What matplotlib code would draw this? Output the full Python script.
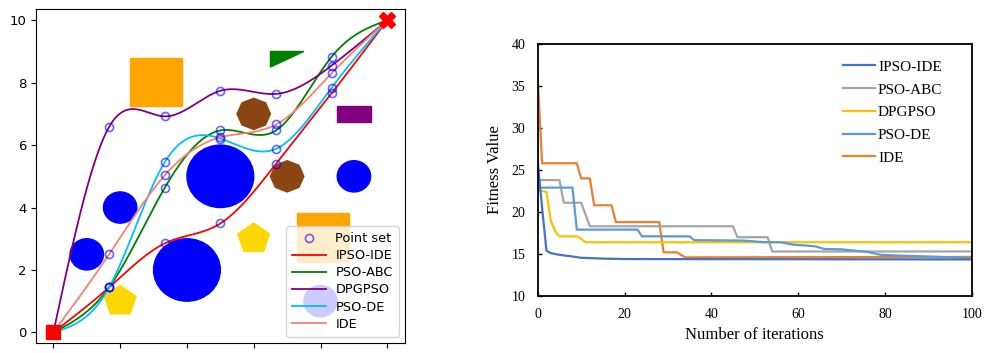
import numpy as np
import matplotlib
matplotlib.use("Agg")
import matplotlib.pyplot as plt
from matplotlib.patches import Circle, Rectangle, RegularPolygon, Polygon

# ---------------- Left panel data (path planning) ----------------
waypoint_x = [0.0, 1.667, 3.333, 5.0, 6.667, 8.333, 10.0]
ipso_ide_path = [0.0, 1.44, 2.85, 3.49, 5.40, 7.66, 10.0]
pso_abc_path = [0.0, 1.44, 4.63, 6.47, 6.47, 8.83, 10.0]
dpgpso_path = [0.0, 6.58, 6.92, 7.74, 7.64, 8.55, 10.0]
pso_de_path = [0.0, 1.44, 5.45, 6.21, 5.88, 7.84, 10.0]
ide_path = [0.0, 2.50, 5.03, 6.25, 6.66, 8.30, 10.0]
path_labels = ["IPSO-IDE", "PSO-ABC", "DPGPSO", "PSO-DE", "IDE"]
path_colors = ["red", "green", "purple", "deepskyblue", "salmon"]

start_point = (0, 0)
goal_point = (10, 10)

# obstacles
circle_centers = [(5, 5), (4, 2), (2, 4), (1, 2.5), (9, 5), (8, 1)]
circle_radii = [1.0, 1.0, 0.5, 0.5, 0.5, 0.5]
square_corners = [(2.3, 7.25), (7.3, 2.26)]
square_sizes = [1.55, 1.55]
pentagon_centers = [(2, 1), (6, 3)]
octagon_centers = [(6, 7), (7, 5)]
triangle_vertices = [(6.5, 9.0), (7.5, 9.0), (6.5, 8.5)]
rect_corner = (8.5, 6.75)
rect_size = (1.0, 0.5)

# ---------------- Right panel data (convergence) ----------------
ipso_it = [0, 1, 2, 3, 5, 8, 10, 15, 20, 100]
ipso_val = [26.0, 20.5, 15.4, 15.1, 14.9, 14.7, 14.55, 14.45, 14.4, 14.35]
abc_it = [0, 5, 6, 10, 12, 45, 46, 53, 54, 100]
abc_val = [23.8, 23.8, 21.1, 21.1, 18.3, 18.3, 17.0, 17.0, 15.3, 15.3]
dpg_it = [0, 2, 3, 4, 5, 9, 10, 11, 100]
dpg_val = [22.6, 22.4, 19.0, 17.7, 17.1, 17.1, 16.8, 16.4, 16.4]
psode_it = [0, 8, 9, 23, 24, 35, 36, 47, 50, 52, 56, 59, 62, 64, 66, 70, 73, 76, 79, 84, 90, 95, 100]
psode_val = [22.9, 22.9, 17.9, 17.9, 17.1, 17.1, 16.65, 16.6, 16.5, 16.4, 16.4, 16.1, 16.0, 15.9,
             15.6, 15.55, 15.4, 15.25, 14.9, 14.8, 14.7, 14.6, 14.5]
ide_it = [0, 1, 9, 10, 12, 13, 17, 18, 28, 29, 32, 34, 100]
ide_val = [35.8, 25.8, 25.8, 24.0, 24.0, 20.8, 20.8, 18.8, 18.8, 15.2, 15.2, 14.6, 14.65]
conv_labels = ["IPSO-IDE", "PSO-ABC", "DPGPSO", "PSO-DE", "IDE"]
conv_colors = ["#4472C4", "#A5A5A5", "#FFC000", "#5B9BD5", "#ED7D31"]


def natural_spline(x, y, xs):
    x = np.asarray(x, float)
    y = np.asarray(y, float)
    n = len(x)
    h = np.diff(x)
    A = np.zeros((n, n))
    b = np.zeros(n)
    A[0, 0] = 1
    A[-1, -1] = 1
    for i in range(1, n - 1):
        A[i, i - 1] = h[i - 1]
        A[i, i] = 2 * (h[i - 1] + h[i])
        A[i, i + 1] = h[i]
        b[i] = 3 * ((y[i + 1] - y[i]) / h[i] - (y[i] - y[i - 1]) / h[i - 1])
    c = np.linalg.solve(A, b)
    out = np.empty_like(xs)
    for k, xv in enumerate(xs):
        i = min(max(np.searchsorted(x, xv) - 1, 0), n - 2)
        dx = xv - x[i]
        bi = (y[i + 1] - y[i]) / h[i] - h[i] * (2 * c[i] + c[i + 1]) / 3
        di = (c[i + 1] - c[i]) / (3 * h[i])
        out[k] = y[i] + bi * dx + c[i] * dx ** 2 + di * dx ** 3
    return out


fig = plt.figure(figsize=(9.84, 3.53), dpi=100)

# ---------------- Left panel ----------------
ax1 = fig.add_axes([0.0366, 0.0283, 0.375, 0.9462])
for (cx, cy), r in zip(circle_centers, circle_radii):
    ax1.add_patch(Circle((cx, cy), r, color="blue", zorder=1))
for (sx, sy), s in zip(square_corners, square_sizes):
    ax1.add_patch(Rectangle((sx, sy), s, s, color="orange", zorder=1))
for c in pentagon_centers:
    ax1.add_patch(RegularPolygon(c, numVertices=5, radius=0.5, color="gold", zorder=1))
for c in octagon_centers:
    ax1.add_patch(RegularPolygon(c, numVertices=8, radius=0.5, color="saddlebrown", zorder=1))
ax1.add_patch(Polygon(triangle_vertices, closed=True, color="green", zorder=1))
ax1.add_patch(Rectangle(rect_corner, rect_size[0], rect_size[1], color="purple", zorder=1))

paths = [ipso_ide_path, pso_abc_path, dpgpso_path, pso_de_path, ide_path]
xs = np.linspace(0, 10, 400)
pts_x, pts_y = [], []
for p in paths:
    pts_x += waypoint_x[1:-1]
    pts_y += p[1:-1]
ax1.plot(pts_x, pts_y, "o", mfc="none", mec="blue", alpha=0.6, ms=5.8, mew=1.2,
         label="Point set", zorder=4)
for p, lab, col in zip(paths, path_labels, path_colors):
    ax1.plot(xs, natural_spline(waypoint_x, p, xs), color=col, lw=1.3, label=lab, zorder=3)
ax1.plot(*start_point, "s", color="red", ms=10, zorder=5)
ax1.plot(*goal_point, "X", color="red", ms=12, zorder=5)
ax1.set_xlim(-0.52, 10.53)
ax1.set_ylim(-0.34, 10.36)
ax1.set_xticks([0, 2, 4, 6, 8, 10])
ax1.set_yticks([0, 2, 4, 6, 8, 10])
ax1.tick_params(labelsize=9.5)
ax1.legend(loc="lower right", fontsize=9.3, handlelength=2.6, labelspacing=0.32,
           borderpad=0.45, handletextpad=0.75)

# ---------------- Right panel ----------------
serif = "Liberation Serif"
ax2 = fig.add_axes([0.5465, 0.1615, 0.441, 0.7139])
series = [(ipso_it, ipso_val), (abc_it, abc_val), (dpg_it, dpg_val), (psode_it, psode_val), (ide_it, ide_val)]
order = [4, 1, 2, 3, 0]
handles = {}
for i in order:
    it, val = series[i]
    h, = ax2.plot(it, val, color=conv_colors[i], lw=1.6, label=conv_labels[i])
    handles[i] = h
ax2.set_xlim(0, 100)
ax2.set_ylim(10, 40)
ax2.set_xticks([0, 20, 40, 60, 80, 100])
ax2.set_yticks([10, 15, 20, 25, 30, 35, 40])
ax2.tick_params(direction="in", length=3, pad=9, labelsize=10, width=1)
for lab in ax2.get_xticklabels() + ax2.get_yticklabels():
    lab.set_fontfamily(serif)
for sp in ax2.spines.values():
    sp.set_linewidth(1.3)
ax2.set_xlabel("Number of iterations", fontfamily=serif, fontsize=12, labelpad=4)
ax2.set_ylabel("Fitness Value", fontfamily=serif, fontsize=12, labelpad=6)
ax2.legend([handles[i] for i in range(5)], conv_labels, loc="upper left",
           bbox_to_anchor=(0.703, 0.936), frameon=False, borderpad=0, borderaxespad=0,
           handlelength=2.1, handletextpad=0.2, labelspacing=0.59,
           prop={"family": serif, "size": 11})

fig.savefig("out.png", dpi=100)
